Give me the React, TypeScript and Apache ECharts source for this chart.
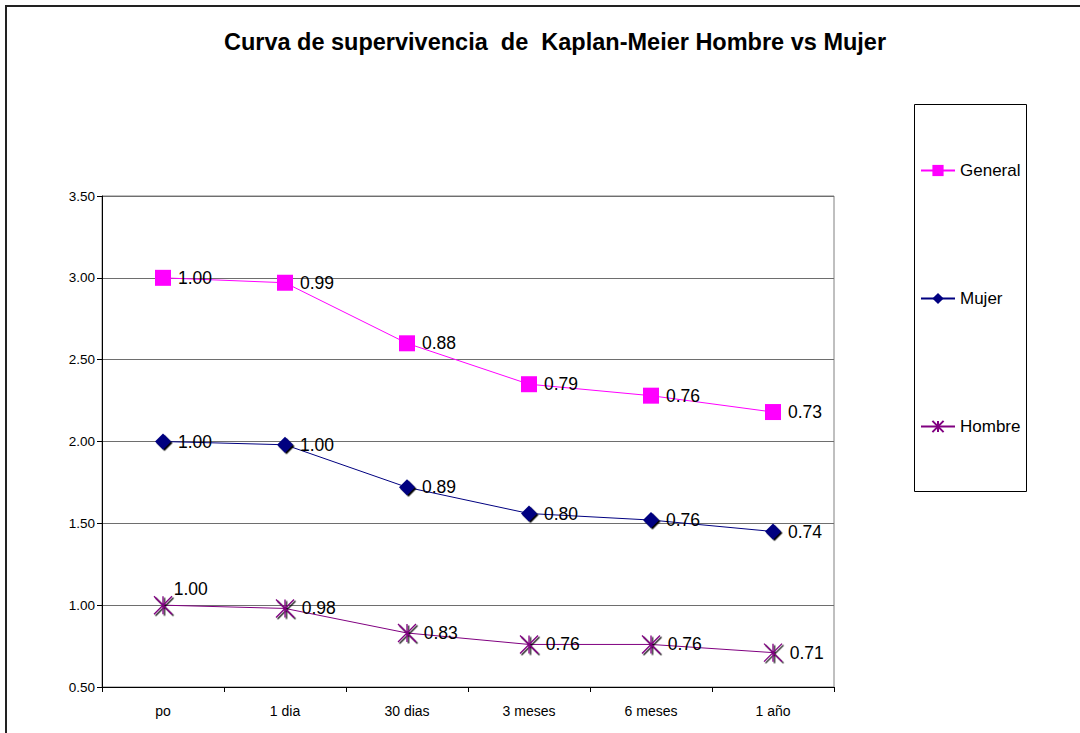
import React, { useEffect, useRef } from "react";
import * as echarts from "echarts";

const categories = ["po", "1 dia", "30 dias", "3 meses", "6 meses", "1 año"];
const hombre = [1.0, 0.98, 0.83, 0.76, 0.76, 0.71];
const mujer = [1.0, 1.0, 0.89, 0.8, 0.76, 0.74];
const general = [1.0, 0.99, 0.88, 0.79, 0.76, 0.73];
const yTicks = [0.5, 1.0, 1.5, 2.0, 2.5, 3.0, 3.5];

const FONT = "'Liberation Sans', Arial, sans-serif";
const ASTERISK = "path://M0,0L10,10M10,0L0,10M5,0L5,10";

export default function App() {
  const ref = useRef<HTMLDivElement>(null);
  useEffect(() => {
    if (!ref.current) return;
    const chart = echarts.init(ref.current, null, { renderer: "svg" });
    const labelBase = {
      show: true,
      position: "right",
      distance: 7,
      color: "#000",
      fontSize: 17.5,
      fontFamily: FONT,
      formatter: (p: any) => Number(p.value).toFixed(2),
    };
    const hombreData = hombre.map((v, i) =>
      i === 0 ? { value: v, label: { offset: [-6, -16] } } : v
    );
    chart.setOption({
      animation: false,
      backgroundColor: "#fff",
      title: {
        text: "Curva de supervivencia  de  Kaplan-Meier Hombre vs Mujer",
        left: 550,
        textAlign: "center",
        top: 25,
        textStyle: { fontFamily: FONT, fontSize: 23.5, fontWeight: "bold", color: "#000" },
      },
      grid: {
        left: 102,
        top: 196,
        right: 246,
        bottom: 46,
        show: true,
        borderColor: "#808080",
        borderWidth: 1,
      },
      legend: {
        orient: "vertical",
        left: 920,
        top: 162,
        itemWidth: 34,
        itemHeight: 14,
        itemGap: 111,
        padding: 0,
        textStyle: { fontFamily: FONT, fontSize: 17, color: "#000" },
        data: ["General", "Mujer", "Hombre"],
      },
      graphic: [
        {
          type: "rect",
          shape: { x: 6, y: 6, width: 1200, height: 900 },
          style: { fill: "none", stroke: "#222", lineWidth: 2 },
          silent: true,
        },
        {
          type: "rect",
          shape: { x: 914.5, y: 104.5, width: 112, height: 387 },
          style: { fill: "none", stroke: "#000", lineWidth: 1 },
          silent: true,
        },
      ],
      xAxis: {
        type: "category",
        data: categories,
        boundaryGap: true,
        axisLine: { lineStyle: { color: "#000", width: 1 } },
        axisTick: { show: true, length: 5, lineStyle: { color: "#000" } },
        axisLabel: { fontFamily: FONT, fontSize: 14, color: "#000", margin: 17 },
      },
      yAxis: {
        type: "value",
        min: 0.5,
        max: 3.5,
        interval: 0.5,
        axisLine: { show: true, lineStyle: { color: "#000", width: 1 } },
        axisTick: { show: true, length: 5, lineStyle: { color: "#000" } },
        axisLabel: {
          fontFamily: FONT,
          fontSize: 13.5,
          color: "#000",
          margin: 7,
          formatter: (v: number) => (yTicks.includes(v) ? v.toFixed(2) : ""),
        },
        splitLine: { show: true, lineStyle: { color: "#6e6e6e", width: 1 } },
      },
      series: [
        {
          name: "Hombre",
          type: "line",
          stack: "total",
          data: hombreData,
          symbol: ASTERISK,
          symbolSize: 18,
          lineStyle: { color: "#800080", width: 1 },
          itemStyle: {
            color: "#800080",
            borderColor: "#800080",
            borderWidth: 1.3,
            shadowColor: "#000",
            shadowOffsetX: 1.5,
            shadowOffsetY: 1.5,
            shadowBlur: 0,
          },
          label: labelBase,
          z: 3,
        },
        {
          name: "Mujer",
          type: "line",
          stack: "total",
          data: mujer,
          symbol: "diamond",
          symbolSize: 16,
          lineStyle: { color: "#000080", width: 1 },
          itemStyle: {
            color: "#000080",
            shadowColor: "#000",
            shadowOffsetX: 1.5,
            shadowOffsetY: 1.5,
            shadowBlur: 0,
          },
          label: labelBase,
          z: 3,
        },
        {
          name: "General",
          type: "line",
          stack: "total",
          data: general,
          symbol: "rect",
          symbolSize: 16,
          lineStyle: { color: "#FF00FF", width: 1 },
          itemStyle: { color: "#FF00FF" },
          label: labelBase,
          z: 3,
        },
      ],
    });
    return () => chart.dispose();
  }, []);
  return (
    <div
      ref={ref}
      style={{ position: "fixed", left: 0, top: 0, width: 1080, height: 733, background: "#fff" }}
    />
  );
}
